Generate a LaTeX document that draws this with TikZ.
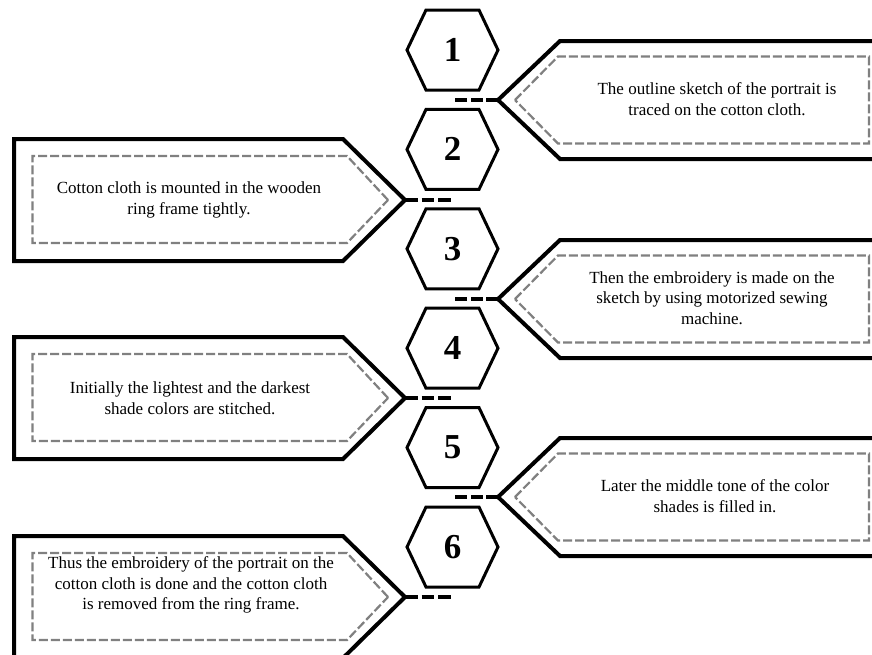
\documentclass[tikz,border=0pt]{standalone}
\usepackage{fontspec}
\setmainfont{Liberation Serif}
\usetikzlibrary{calc}
\definecolor{innergray}{RGB}{128,128,128}
\begin{document}
\begin{tikzpicture}[x=1pt,y=-1pt,
  hexline/.style={draw=black, line width=3pt, line join=miter},
  outerbox/.style={draw=black, line width=4pt, line join=miter},
  innerbox/.style={draw=innergray, line width=2.2pt, dash pattern=on 9pt off 3pt},
  conn/.style={draw=black, line width=4pt, dash pattern=on 12pt off 3.5pt},
  connl/.style={draw=black, line width=4pt, dash pattern=on 12.6pt off 4pt},
  txt/.style={align=center, inner sep=0pt, font=\fontsize{17}{20.5}\selectfont},
  num/.style={inner sep=0pt, font=\fontsize{35}{35}\selectfont\bfseries}]
\useasboundingbox (0,0) rectangle (872,654);
\clip (0,0) rectangle (872,654);
\fill[white] (0,0) rectangle (872,654);

% hexagons
\foreach \i in {1,...,6}{
  \node[num] (h\i) at (452.5,{50+99.4*(\i-1)}) {\i};
  \draw[hexline] ($(h\i.center)+(-45.5,0)$) -- ++(19,-40) -- ++(53,0)
    -- ++(19,40) -- ++(-19,40) -- ++(-53,0) -- cycle;
}

% right boxes
\foreach \k/\T in {1/100,2/299,3/497}{
  \coordinate (rt\k) at (498,\T);
  \coordinate (re\k) at (455,\T);
  \draw[outerbox] (rt\k) -- ++(62,-59) -- ++(340,0) -- ++(0,118) -- ++(-340,0) -- cycle;
  \draw[innerbox] ($(rt\k)+(17,0)$) -- ++(43,-43.5) -- ++(311,0) -- ++(0,87) -- ++(-311,0) -- cycle;
  \draw[conn] (rt\k) -- (re\k);
}

% left boxes
\foreach \k/\T in {1/200,2/398,3/597}{
  \coordinate (lt\k) at (405,\T);
  \coordinate (le\k) at (451.2,\T);
  \draw[outerbox] (lt\k) -- ++(-62,-61) -- (14,\T-61) -- (14,\T+61) -- ($(lt\k)+(-62,61)$) -- cycle;
  \draw[innerbox] ($(lt\k)+(-17,0)$) -- ++(-41,-44) -- (32.5,\T-44) -- (32.5,\T+43) -- ($(lt\k)+(-58,43)$) -- cycle;
  \draw[connl] (lt\k) -- (le\k);
}

% texts
\node[txt] (rtext1) at (717,99) {The outline sketch of the portrait is\\traced on the cotton cloth.};
\node[txt] (rtext2) at (712,298) {Then the embroidery is made on the\\sketch by using motorized sewing\\machine.};
\node[txt] (rtext3) at (715,496) {Later the middle tone of the color\\shades is filled in.};
\node[txt] (ltext1) at (189,200) {Cotton cloth is mounted in the wooden\\ring frame tightly.};
\node[txt] (ltext2) at (190,398) {Initially the lightest and the darkest\\shade colors are stitched.};
\node[txt] (ltext3) at (191,585) {Thus the embroidery of the portrait on the\\cotton cloth is done and the cotton cloth\\is removed from the ring frame.};
\end{tikzpicture}
\end{document}
